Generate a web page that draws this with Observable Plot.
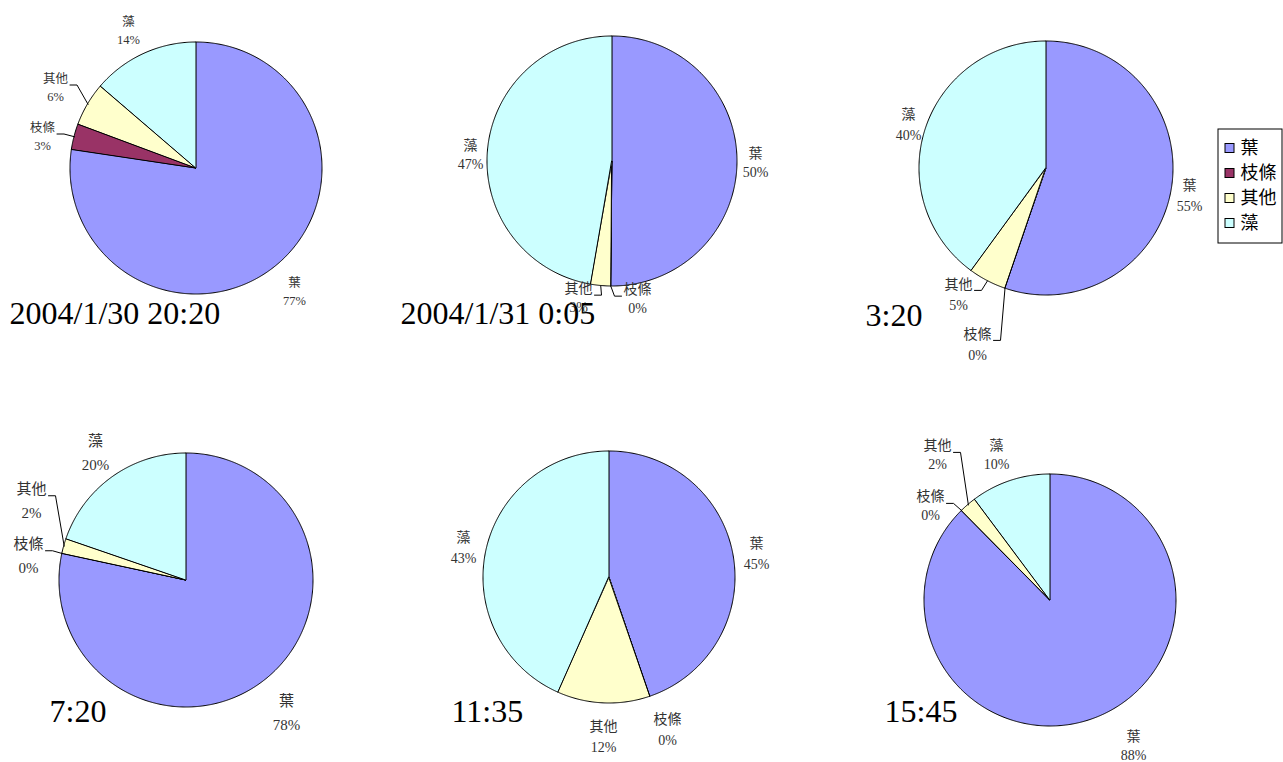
<!DOCTYPE html>
<html>
<head>
<meta charset="utf-8">
<script src="https://cdn.jsdelivr.net/npm/d3@7"></script>
<script src="https://cdn.jsdelivr.net/npm/@observablehq/plot@0.6"></script>
<style>
  html, body { margin: 0; padding: 0; background: #fff; overflow: hidden; }
  #chart svg { display: block; font-family: "Liberation Serif", "Noto Sans CJK TC", serif; }
</style>
</head>
<body>
<div id="chart"></div>
<script>
// ---------- data ----------
const categories = ["葉", "枝條", "其他", "藻"];
const times = ["2004/1/30 20:20", "2004/1/31 0:05", "3:20", "7:20", "11:35", "15:45"];
const leafValues   = [77.4, 50.2, 55.3, 78.4, 44.8, 87.6]; // 葉
const branchValues = [3.3, 0, 0, 0, 0, 0];                 // 枝條
const otherValues  = [5.6, 2.6, 4.8, 1.9, 11.9, 2.2];      // 其他
const algaeValues  = [13.7, 47.2, 39.9, 19.7, 43.3, 10.2]; // 藻

// ---------- styles / layout ----------
const colors = ["#9999FF", "#993366", "#FFFFCC", "#CCFFFF"];
const W = 1283, H = 762;
const serif = "Liberation Serif, Noto Sans CJK TC, serif";
const pieCenters = [[196, 168], [612, 161], [1046, 168], [186, 580], [609, 577], [1050, 600]];
const pieRadius = [126, 125, 127, 127, 126, 126];
const labelFont = [12.5, 14, 14, 15, 14, 14];
const labelSpacing = [18, 19.5, 21, 23.5, 21, 19];
const titlePos = [[9, 323], [400, 323], [865, 325], [49, 721], [451, 721], [884, 721]];
// label block centre, offset from the pie centre, per category
const labelOffsets = [
  [[98, 122], [-154, -33], [-141, -82], [-68, -139]],
  [[143, 0], [25, 136], [-34, 135], [-142, -8]],
  [[143, 25], [-69, 174], [-88, 124], [-138, -46]],
  [[100, 130], [-158, -27], [-155, -82], [-91, -130]],
  [[147, -26], [58, 150], [-6, 157], [-146, -32]],
  [[83, 144], [-120, -96], [-113, -147], [-54, -147]]
];
const leaderCats = [[1, 2], [1, 2], [1, 2], [1, 2], [], [1, 2]];
const legendBox = {x1: 1218, x2: 1282, y1: 129, y2: 243};
const legendRowY = [148, 173, 198, 223];

// ---------- build geometry from data ----------
const series = [leafValues, branchValues, otherValues, algaeValues];
const arcRows = [], labelRows = [], leaderRows = [], titleRows = [];
times.forEach((t, p) => {
  const vals = series.map(s => s[p]);
  const total = d3.sum(vals);
  const arcs = d3.pie().sort(null).value(d => d)(vals);
  const [cx, cy] = pieCenters[p];
  const r = pieRadius[p];
  arcs.forEach((a, k) => {
    const key = p + "-" + k;
    const span = a.endAngle - a.startAngle;
    const n = Math.max(2, Math.ceil(span / (Math.PI / 360)) + 1);
    for (let i = 0; i < n; i++) {
      const ang = a.startAngle + span * i / (n - 1);
      arcRows.push({key, cat: categories[k], cx, cy, x: cx + r * Math.sin(ang), y: cy - r * Math.cos(ang)});
    }
    const lx = cx + labelOffsets[p][k][0];
    const ly = cy + labelOffsets[p][k][1];
    const pct = Math.round(vals[k] / total * 100) + "%";
    labelRows.push({x: lx, y: ly, text: categories[k] + "\n" + pct, fs: labelFont[p], lh: labelSpacing[p] / labelFont[p]});
    if (leaderCats[p].includes(k)) {
      const mid = (a.startAngle + a.endAngle) / 2;
      const ax = cx + r * Math.sin(mid), ay = cy - r * Math.cos(mid);
      const side = ax >= lx ? 1 : -1;
      const fs = labelFont[p];
      const sy = ly - labelSpacing[p] / 2 + 0.6 * fs;
      const sx = lx + side * (categories[k].length * fs / 2 + 2);
      const ex = sx + side * 7;
      leaderRows.push({key, x: sx, y: sy}, {key, x: ex, y: sy}, {key, x: ax, y: ay});
    }
  });
  titleRows.push({x: titlePos[p][0], y: titlePos[p][1], text: t});
});

const legendRows = categories.map((c, i) => ({cat: c, y: legendRowY[i]}));

// group labels by font size so each text mark keeps its own size
const labelGroups = d3.groups(labelRows, d => d.fs + "|" + d.lh);

const plot = Plot.plot({
  width: W,
  height: H,
  margin: 0,
  x: {domain: [0, W], range: [0, W], axis: null},
  y: {domain: [0, H], range: [0, H], axis: null},
  color: {domain: categories, range: colors},
  style: {background: "#fff", color: "#000"},
  marks: [
    Plot.area(arcRows, {x1: "cx", y1: "cy", x2: "x", y2: "y", z: "key", fill: "cat", stroke: "#000", strokeWidth: 1, strokeLinejoin: "round"}),
    Plot.line(leaderRows, {x: "x", y: "y", z: "key", stroke: "#000", strokeWidth: 1}),
    ...labelGroups.map(([g, rows]) => Plot.text(rows, {
      x: "x", y: "y", text: "text", textAnchor: "middle", lineAnchor: "middle",
      fontSize: rows[0].fs, lineHeight: rows[0].lh, fill: "#333", fontFamily: serif
    })),
    Plot.text(titleRows, {x: "x", y: "y", text: "text", textAnchor: "start", lineAnchor: "bottom", fontSize: 32, fill: "#000", fontFamily: serif}),
    // legend
    Plot.rect([legendBox], {x1: "x1", x2: "x2", y1: "y1", y2: "y2", fill: "#fff", stroke: "#000", strokeWidth: 1}),
    Plot.rect(legendRows, {x1: () => 1225, x2: () => 1234, y1: d => d.y - 4.5, y2: d => d.y + 4.5, fill: "cat", stroke: "#000", strokeWidth: 1}),
    Plot.text(legendRows, {x: () => 1240, y: "y", text: "cat", textAnchor: "start", lineAnchor: "middle", fontSize: 18, fill: "#000", fontFamily: "Noto Sans CJK TC, sans-serif"})
  ]
});
document.getElementById("chart").appendChild(plot);
</script>
</body>
</html>
